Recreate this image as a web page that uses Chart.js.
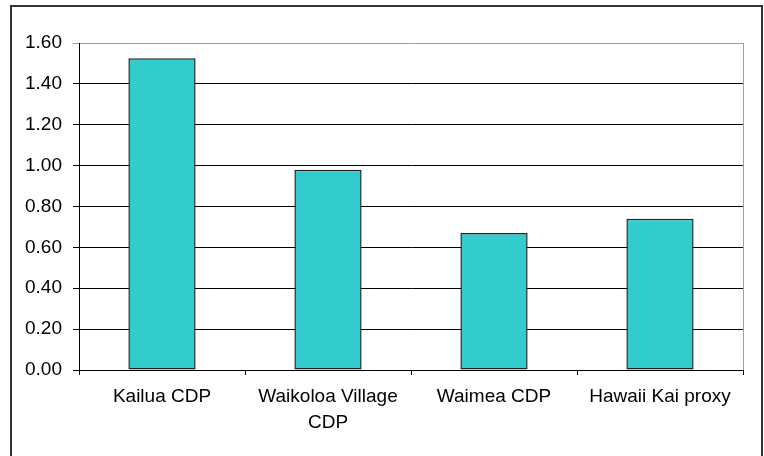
<!DOCTYPE html>
<html>
<head>
<meta charset="utf-8">
<script src="https://cdn.jsdelivr.net/npm/chart.js@4/dist/chart.umd.min.js"></script>
<style>
  body { margin: 0; background: #fff; }
  #wrap { position: relative; width: 764px; height: 456px; overflow: hidden; }
  #frame { position: absolute; left: 10px; top: 5px; width: 749px; height: 470px; border: 2px solid #333; }
  canvas { position: absolute; left: 0; top: 0; }
</style>
</head>
<body>
<div id="wrap">
  <div id="frame"></div>
  <canvas id="chart" width="764" height="456"></canvas>
</div>
<script>
const places = ['Kailua CDP', ['Waikoloa Village', 'CDP'], 'Waimea CDP', 'Hawaii Kai proxy'];
const ratios = [1.525, 0.98, 0.67, 0.74];
const yMax = 1.6;
const yStep = 0.2;

const font = { family: '"Liberation Sans", Arial, sans-serif', size: 19 };

// light grey edge on the right of the plot area
const plotEdge = {
  id: 'plotEdge',
  afterDatasetsDraw(chart) {
    const { ctx, chartArea } = chart;
    ctx.save();
    ctx.strokeStyle = '#a0a0a0';
    ctx.lineWidth = 1;
    ctx.beginPath();
    ctx.moveTo(Math.round(chartArea.right) + 0.5, chartArea.top);
    ctx.lineTo(Math.round(chartArea.right) + 0.5, chartArea.bottom);
    ctx.stroke();
    ctx.restore();
  }
};

new Chart(document.getElementById('chart'), {
  type: 'bar',
  data: {
    labels: places,
    datasets: [{
      data: ratios,
      backgroundColor: '#33CCCC',
      borderColor: '#222222',
      borderWidth: 1.5,
      borderSkipped: false,
      barPercentage: 0.405,
      categoryPercentage: 1,
    }]
  },
  options: {
    responsive: false,
    animation: false,
    layout: { padding: { top: 43, right: 21, left: 0, bottom: 0 } },
    plugins: { legend: { display: false }, tooltip: { enabled: false } },
    scales: {
      x: {
        grid: { offset: true, drawOnChartArea: false, color: '#000', tickLength: 5 },
        border: { color: '#000', width: 1 },
        ticks: { color: '#000', font: { ...font, lineHeight: 1.4 }, padding: 8, maxRotation: 0 },
        afterFit(scale) { scale.height = 86; }
      },
      y: {
        min: 0,
        max: yMax,
        grid: {
          color: ctx => (ctx.tick && ctx.tick.value >= yMax ? '#a0a0a0' : '#000'),
          tickLength: 6,
        },
        border: { color: '#000', width: 1 },
        ticks: {
          stepSize: yStep,
          color: '#000',
          font,
          padding: 11,
          callback: v => v.toFixed(2)
        },
        afterFit(scale) { scale.width = 79; }
      }
    }
  },
  plugins: [plotEdge]
});
</script>
</body>
</html>
